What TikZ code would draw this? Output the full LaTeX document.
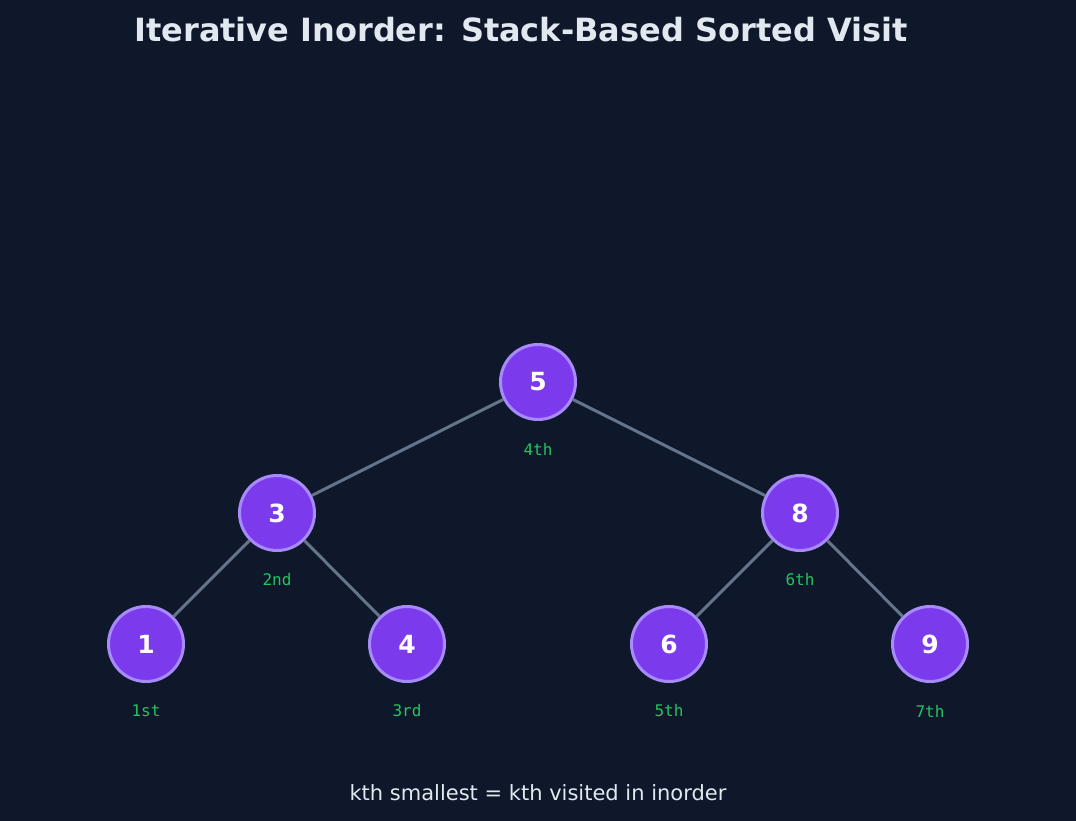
\documentclass[tikz,border=0pt]{standalone}
\usepackage{fontspec}
\setmainfont{DejaVu Sans}
\setmonofont{DejaVu Sans Mono}
\definecolor{bgc}{HTML}{0F172A}
\definecolor{nodefill}{HTML}{7C3AED}
\definecolor{nodeedge}{HTML}{A78BFA}
\definecolor{edgec}{HTML}{64748B}
\definecolor{rankc}{HTML}{22C55E}
\definecolor{textc}{HTML}{E2E8F0}
\tikzset{
  bst/.style={circle,fill=nodefill,draw=nodeedge,line width=3pt,minimum size=75pt,inner sep=0pt,
    text=white,font=\fontsize{25}{25}\selectfont\bfseries},
  rank/.style={text=rankc,font=\ttfamily\fontsize{16}{16}\selectfont},
  link/.style={draw=edgec,line width=3pt}
}
\begin{document}
\begin{tikzpicture}[x=1pt,y=-1pt]
\fill[bgc] (0,0) rectangle (1076,821);
\useasboundingbox (0,0) rectangle (1076,821);

% Title
\node (title) at (521,30) [text=textc,font=\fontsize{32}{32}\selectfont\bfseries] {Iterative Inorder: Stack-Based Sorted Visit};

% Tree nodes
\node (n5) at (538,382) [bst] {5};
\node (n3) at (277,513) [bst] {3};
\node (n8) at (800,513) [bst] {8};
\node (n1) at (146,644) [bst] {1};
\node (n4) at (407,644) [bst] {4};
\node (n6) at (669,644) [bst] {6};
\node (n9) at (930,644) [bst] {9};

% Edges
\begin{scope}[on background layer/.style={}]
\end{scope}
\path[link] (n5) -- (n3);
\path[link] (n5) -- (n8);
\path[link] (n3) -- (n1);
\path[link] (n3) -- (n4);
\path[link] (n8) -- (n6);
\path[link] (n8) -- (n9);

% Visit order
\node (r5) at (538,449) [rank] {4th};
\node (r3) at (277,580) [rank] {2nd};
\node (r8) at (800,580) [rank] {6th};
\node (r1) at (146,711) [rank] {1st};
\node (r4) at (407,711) [rank] {3rd};
\node (r6) at (669,711) [rank] {5th};
\node (r9) at (930,711) [rank] {7th};

% Caption
\node (caption) at (538,793) [text=textc,font=\fontsize{21}{21}\selectfont] {kth smallest = kth visited in inorder};
\end{tikzpicture}
\end{document}
